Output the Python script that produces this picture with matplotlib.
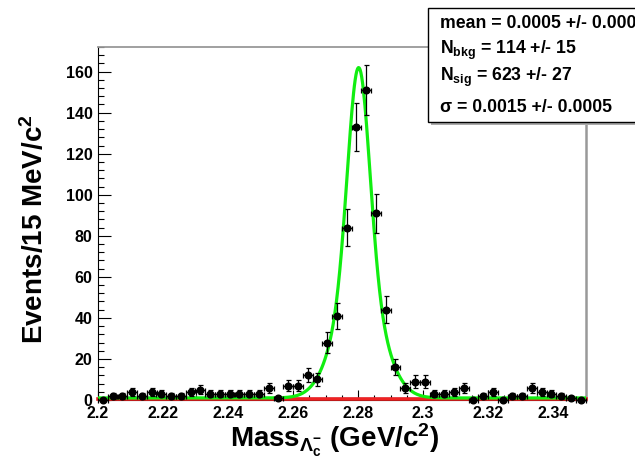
import numpy as np
import matplotlib.pyplot as plt
from matplotlib.patches import Rectangle
from matplotlib.ticker import MultipleLocator, FixedLocator

plt.rcParams['font.family'] = ['Liberation Sans', 'DejaVu Sans']
plt.rcParams['font.weight'] = 'bold'
plt.rcParams['mathtext.fontset'] = 'custom'
plt.rcParams['mathtext.rm'] = 'Liberation Sans:bold'
plt.rcParams['mathtext.it'] = 'Liberation Sans:bold'
plt.rcParams['mathtext.bf'] = 'Liberation Sans:bold'

## histogram: 50 bins of 3 MeV from 2.2 GeV
mass_lo = 2.2
mass_hi = 2.35
bin_w = 0.003
counts = [0, 2, 2, 4, 2, 4, 3, 2, 2, 4,
          5, 3, 3, 3, 3, 3, 3, 6, 1, 7,
          7, 12, 10, 28, 41, 84, 133, 151, 91, 44,
          16, 6, 9, 9, 3, 3, 4, 6, 0, 2,
          4, 0, 2, 2, 6, 4, 3, 2, 1, 0]

## fit curve parameters
fit_mean = 2.2802
narrow_amp, narrow_sig = 103.0, 0.0033
wide_amp, wide_sig = 58.0, 0.0068
bkg_level = 1.0
zero_level = 0.3

x_ticks = [2.2, 2.22, 2.24, 2.26, 2.28, 2.3, 2.32, 2.34]
x_tick_labels = ['2.2', '2.22', '2.24', '2.26', '2.28', '2.3', '2.32', '2.34']
y_ticks = [0, 20, 40, 60, 80, 100, 120, 140, 160]

stats_lines = ['mean = 0.0005 +/- 0.000',
               r'N$_{\mathrm{bkg}}$ = 114 +/- 15',
               r'N$_{\mathrm{sig}}$ = 623 +/- 27',
               u'\u03c3 = 0.0015 +/- 0.0005']

W, H = 635., 466.
fig = plt.figure(figsize=(W/100, H/100), dpi=100)
ax = fig.add_axes([98/W, 1-400/H, 487.5/W, 353/H])

counts = np.array(counts, dtype=float)
centres = mass_lo + bin_w*(np.arange(len(counts)) + 0.5)
yerr = np.sqrt(counts)

# fit components
xf = np.linspace(mass_lo, mass_hi, 600)
sig = narrow_amp*np.exp(-0.5*((xf-fit_mean)/narrow_sig)**2) + \
      wide_amp*np.exp(-0.5*((xf-fit_mean)/wide_sig)**2)
ax.plot([mass_lo, mass_hi], [bkg_level, bkg_level], color='#3333bb', lw=1.0, zorder=3)
ax.plot([mass_lo, mass_hi], [zero_level, zero_level], color='#ee2222', lw=2.6,
        zorder=3.5, clip_on=False)
ax.plot(xf, sig + bkg_level, color='#11ee11', lw=2.3, zorder=4)

ax.errorbar(centres, counts, yerr=yerr, xerr=bin_w/2, fmt='o', color='black',
            ms=4.8, elinewidth=0.9, capsize=1.8, capthick=0.9, zorder=5, clip_on=False)

ax.set_xlim(mass_lo, mass_hi)
ax.set_ylim(0, 172)
ax.xaxis.set_major_locator(FixedLocator(x_ticks))
ax.set_xticklabels(x_tick_labels)
ax.xaxis.set_minor_locator(MultipleLocator(0.005))
ax.yaxis.set_major_locator(FixedLocator(y_ticks))
ax.yaxis.set_minor_locator(MultipleLocator(4))
ax.tick_params(which='both', direction='in', top=False, right=False,
               labelsize=11.5, pad=4)
ax.tick_params(axis='y', which='major', length=9, width=0.8)
ax.tick_params(axis='y', which='minor', length=4.5, width=0.8)
ax.tick_params(axis='x', which='major', length=7.5, width=0.8)
ax.tick_params(axis='x', which='minor', length=3.5, width=0.8)
for lab in ax.get_xticklabels() + ax.get_yticklabels():
    lab.set_fontweight('bold')

ax.spines['left'].set_color('black')
ax.spines['bottom'].set_color('black')
ax.spines['left'].set_linewidth(0.8)
ax.spines['bottom'].set_linewidth(0.8)
ax.spines['top'].set_color('#999999')
ax.spines['right'].set_color('#999999')
ax.spines['top'].set_linewidth(1.3)
ax.spines['right'].set_linewidth(1.8)

fig.text(35/W, 1-229/H, 'Events/15 MeV/c$^{2}$', rotation=90, fontsize=20,
         fontweight='bold', ha='center', va='center')
fig.text(335/W, 1-440/H, r'Mass$_{\Lambda_{c}^{-}}$ (GeV/c$^{2}$)', fontsize=20,
         fontweight='bold', ha='center', va='center')

## stats box, cut by the right edge like the original
fig.patches.append(Rectangle((431/W, 1-125/H), 0.5, 114/H, transform=fig.transFigure,
                             facecolor='#aaaaaa', edgecolor='none', zorder=5))
fig.patches.append(Rectangle((428/W, 1-122/H), 0.5, 114/H, transform=fig.transFigure,
                             facecolor='white', edgecolor='black', lw=1.0, zorder=6))
for line, yy in zip(stats_lines, [24, 50, 77, 107]):
    fig.text(440/W, 1-yy/H, line, fontsize=12.7, fontweight='bold',
             ha='left', va='center', zorder=7)

fig.savefig('out.png', dpi=100)
